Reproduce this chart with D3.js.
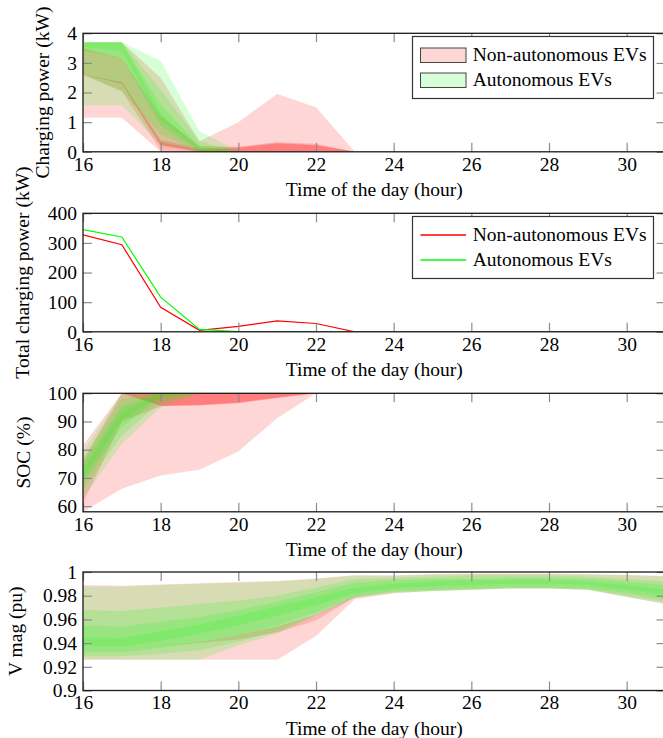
<!DOCTYPE html>
<html>
<head>
<meta charset="utf-8">
<script src="https://cdn.jsdelivr.net/npm/d3@7"></script>
<style>
  body { margin: 0; background: #fff; }
  svg text { font-family: "Liberation Serif", "DejaVu Serif", serif; fill: #000; }
</style>
</head>
<body>
<div id="chart"></div>
<script>
const hours = [16, 17, 18, 19, 20, 21, 22, 23, 24, 25, 26, 27, 28, 29, 30, 31];
const xTicks = [16, 18, 20, 22, 24, 26, 28, 30];
const legendNames = ['Non-autonomous EVs', 'Autonomous EVs'];

// panel 1 - charging power per EV (kW), bands from outer to inner
const powerNonAutoBands = [
  {lo: [1.15, 1.15, 0, 0, 0, 0, 0, 0, 0, 0, 0, 0, 0, 0, 0, 0],
   hi: [3.7, 3.7, 2.5, 0.36, 1.0, 1.95, 1.5, 0, 0, 0, 0, 0, 0, 0, 0, 0]},
  {lo: [2.6, 2.04, 0.05, 0, 0, 0, 0, 0, 0, 0, 0, 0, 0, 0, 0, 0],
   hi: [3.5, 3.16, 1.2, 0.2, 0.17, 0.33, 0.27, 0, 0, 0, 0, 0, 0, 0, 0, 0]},
  {lo: [2.6, 2.3, 0.2, 0, 0, 0, 0, 0, 0, 0, 0, 0, 0, 0, 0, 0],
   hi: [2.6, 2.36, 0.4, 0.12, 0.15, 0.3, 0.24, 0, 0, 0, 0, 0, 0, 0, 0, 0]},
  {lo: [2.6, 2.32, 0.25, 0, 0, 0, 0, 0, 0, 0, 0, 0, 0, 0, 0, 0],
   hi: [2.6, 2.34, 0.32, 0.07, 0.13, 0.28, 0.21, 0, 0, 0, 0, 0, 0, 0, 0, 0]}
];
const powerAutoBands = [
  {lo: [1.57, 1.57, 0.24, 0, 0, 0, 0, 0, 0, 0, 0, 0, 0, 0, 0, 0],
   hi: [3.7, 3.7, 3.07, 0.69, 0.03, 0, 0, 0, 0, 0, 0, 0, 0, 0, 0, 0]},
  {lo: [2.6, 2.04, 0.6, 0.01, 0, 0, 0, 0, 0, 0, 0, 0, 0, 0, 0, 0],
   hi: [3.7, 3.7, 2.1, 0.36, 0.02, 0, 0, 0, 0, 0, 0, 0, 0, 0, 0, 0]},
  {lo: [3.4, 3.16, 0.9, 0.03, 0, 0, 0, 0, 0, 0, 0, 0, 0, 0, 0, 0],
   hi: [3.7, 3.7, 1.6, 0.2, 0.01, 0, 0, 0, 0, 0, 0, 0, 0, 0, 0, 0]},
  {lo: [3.55, 3.4, 1.1, 0.05, 0, 0, 0, 0, 0, 0, 0, 0, 0, 0, 0, 0],
   hi: [3.7, 3.7, 1.3, 0.1, 0.01, 0, 0, 0, 0, 0, 0, 0, 0, 0, 0, 0]}
];

// panel 2 - total charging power (kW)
const totalNonAuto = [327, 294, 83, 5, 18, 37, 28, 0, 0, 0, 0, 0, 0, 0, 0, 0];
const totalAuto = [345, 320, 117, 8, 1, 0, 0, 0, 0, 0, 0, 0, 0, 0, 0, 0];

// panel 3 - SOC (%)
const socNonAutoBands = [
  {lo: [58, 66.2, 70.9, 72.9, 79.4, 91.2, 100, 100, 100, 100, 100, 100, 100, 100, 100, 100],
   hi: [81.6, 100, 100, 100, 100, 100, 100, 100, 100, 100, 100, 100, 100, 100, 100, 100]},
  {lo: [61, 90, 95.4, 95.7, 96.5, 98.3, 100, 100, 100, 100, 100, 100, 100, 100, 100, 100],
   hi: [76, 100, 100, 100, 100, 100, 100, 100, 100, 100, 100, 100, 100, 100, 100, 100]},
  {lo: [100, 100, 95.5, 95.8, 96.6, 98.4, 100, 100, 100, 100, 100, 100, 100, 100, 100, 100],
   hi: [100, 100, 100, 100, 100, 100, 100, 100, 100, 100, 100, 100, 100, 100, 100, 100]},
  {lo: [100, 100, 95.6, 95.9, 96.7, 98.5, 100, 100, 100, 100, 100, 100, 100, 100, 100, 100],
   hi: [100, 100, 100, 100, 100, 100, 100, 100, 100, 100, 100, 100, 100, 100, 100, 100]}
];
const socAutoBands = [
  {lo: [63, 82, 95, 100, 100, 100, 100, 100, 100, 100, 100, 100, 100, 100, 100, 100],
   hi: [79.3, 100, 100, 100, 100, 100, 100, 100, 100, 100, 100, 100, 100, 100, 100, 100]},
  {lo: [66, 85, 97, 100, 100, 100, 100, 100, 100, 100, 100, 100, 100, 100, 100, 100],
   hi: [77, 98, 100, 100, 100, 100, 100, 100, 100, 100, 100, 100, 100, 100, 100, 100]},
  {lo: [68, 88, 98.5, 100, 100, 100, 100, 100, 100, 100, 100, 100, 100, 100, 100, 100],
   hi: [75, 95.5, 100, 100, 100, 100, 100, 100, 100, 100, 100, 100, 100, 100, 100, 100]},
  {lo: [70, 90.5, 99.3, 100, 100, 100, 100, 100, 100, 100, 100, 100, 100, 100, 100, 100],
   hi: [73, 93.5, 100, 100, 100, 100, 100, 100, 100, 100, 100, 100, 100, 100, 100, 100]}
];

// panel 4 - voltage magnitude (pu)
const voltNonAutoBands = [
  {lo: [0.926, 0.926, 0.926, 0.926, 0.926, 0.926, 0.946, 0.977, 0.982, 0.984, 0.985, 0.986, 0.986, 0.985, 0.979, 0.973],
   hi: [0.989, 0.9885, 0.9895, 0.9905, 0.9915, 0.9925, 0.9945, 0.9972, 0.997, 0.998, 0.9985, 0.9985, 0.9985, 0.998, 0.9975, 0.9966]},
  {lo: [0.935, 0.934, 0.937, 0.940, 0.943, 0.949, 0.959, 0.979, 0.984, 0.985, 0.986, 0.987, 0.987, 0.986, 0.981, 0.976],
   hi: [0.935, 0.934, 0.937, 0.941, 0.947, 0.954, 0.964, 0.980, 0.984, 0.985, 0.986, 0.987, 0.987, 0.986, 0.981, 0.976]}
];
const voltAutoBands = [
  {lo: [0.926, 0.926, 0.926, 0.926, 0.938, 0.948, 0.963, 0.978, 0.982, 0.984, 0.985, 0.986, 0.986, 0.985, 0.979, 0.973],
   hi: [0.988, 0.9875, 0.989, 0.990, 0.991, 0.992, 0.994, 0.997, 0.997, 0.998, 0.9985, 0.9985, 0.9985, 0.998, 0.9975, 0.9965]},
  {lo: [0.929, 0.929, 0.931, 0.934, 0.941, 0.950, 0.964, 0.979, 0.983, 0.984, 0.985, 0.986, 0.986, 0.985, 0.980, 0.975],
   hi: [0.968, 0.967, 0.970, 0.973, 0.976, 0.980, 0.987, 0.994, 0.995, 0.996, 0.997, 0.997, 0.997, 0.996, 0.994, 0.992]},
  {lo: [0.933, 0.932, 0.936, 0.941, 0.947, 0.955, 0.966, 0.980, 0.984, 0.985, 0.986, 0.987, 0.987, 0.986, 0.982, 0.977],
   hi: [0.955, 0.954, 0.958, 0.962, 0.968, 0.975, 0.983, 0.991, 0.993, 0.994, 0.994, 0.995, 0.995, 0.994, 0.992, 0.989]},
  {lo: [0.938, 0.937, 0.942, 0.948, 0.955, 0.963, 0.972, 0.982, 0.986, 0.988, 0.989, 0.990, 0.990, 0.989, 0.985, 0.981],
   hi: [0.945, 0.944, 0.950, 0.956, 0.963, 0.971, 0.979, 0.987, 0.990, 0.992, 0.993, 0.993, 0.993, 0.992, 0.989, 0.985]}
];

const powerTicks = [0, 1, 2, 3, 4];
const totalTicks = [0, 100, 200, 300, 400];
const socTicks = [60, 70, 80, 90, 100];
const voltTicks = [0.9, 0.92, 0.94, 0.96, 0.98, 1];

const width = 663, height = 738;
const left = 83, right = 665.5;
const panelH = 118.5;
const fontSize = 19.5;
const fontFamily = '"Liberation Serif", "DejaVu Serif", serif';
const red = '#ff0000', green = '#00ff00';
const redOpacity = 0.16, greenOpacity = 0.155;

const svg = d3.select('#chart').append('svg')
    .attr('width', width).attr('height', height);

const x = d3.scaleLinear().domain([16, 31]).range([left, right]);

const panels = [
  {top: 33.3, domain: [0, 4], ticks: powerTicks, label: 'Charging power (kW)', labelX: 43,
   bands: [powerNonAutoBands, powerAutoBands], legend: 'area'},
  {top: 213.3, domain: [0, 400], ticks: totalTicks, label: 'Total charging power (kW)', labelX: 23,
   lines: [totalNonAuto, totalAuto], legend: 'line'},
  {top: 393.3, domain: [58, 100], ticks: socTicks, label: 'SOC (%)', labelX: 24,
   bands: [socNonAutoBands, socAutoBands]},
  {top: 572, domain: [0.9, 1], ticks: voltTicks, label: 'V mag (pu)', labelX: 16,
   bands: [voltNonAutoBands, voltAutoBands]}
];

panels.forEach((p, i) => drawPanel(p, i));

function drawPanel(p, i) {
  const bottom = p.top + panelH;
  const y = d3.scaleLinear().domain(p.domain).range([bottom, p.top]);
  const g = svg.append('g');

  g.append('clipPath').attr('id', 'clip' + i)
    .append('rect').attr('x', left).attr('y', p.top)
    .attr('width', right - left).attr('height', panelH);
  const plot = g.append('g').attr('clip-path', `url(#clip${i})`);

  const colors = [red, green];
  const opacities = [redOpacity, greenOpacity];
  if (p.bands) {
    // red first, green on top
    p.bands.forEach((bands, k) => {
      bands.forEach(b => {
        const area = d3.area()
          .x(j => x(hours[j]))
          .y0(j => y(b.lo[j]))
          .y1(j => y(b.hi[j]));
        plot.append('path')
          .attr('d', area(d3.range(hours.length)))
          .attr('fill', colors[k])
          .attr('fill-opacity', opacities[k])
          .attr('stroke', 'none');
      });
    });
  }
  if (p.lines) {
    p.lines.forEach((vals, k) => {
      const line = d3.line().x((d, j) => x(hours[j])).y(d => y(d));
      plot.append('path')
        .attr('d', line(vals))
        .attr('fill', 'none')
        .attr('stroke', colors[k])
        .attr('stroke-width', 1.2);
    });
  }

  // ticks point inward on all four sides
  const tickLen = 9;
  const styleAxis = sel => {
    sel.attr('font-family', fontFamily).attr('font-size', fontSize);
    sel.select('.domain').remove();
    sel.selectAll('.tick line').attr('stroke', '#8c8c8c').attr('stroke-width', 1.2);
  };
  g.append('g').attr('transform', `translate(0,${bottom})`)
    .call(d3.axisBottom(x).tickValues(xTicks).tickSize(-tickLen).tickPadding(5).tickFormat(d3.format('d')))
    .call(styleAxis);
  g.append('g').attr('transform', `translate(0,${p.top})`)
    .call(d3.axisTop(x).tickValues(xTicks).tickSize(-tickLen).tickFormat(''))
    .call(styleAxis);
  g.append('g').attr('transform', `translate(${left},0)`)
    .call(d3.axisLeft(y).tickValues(p.ticks).tickSize(-tickLen).tickPadding(6)
      .tickFormat(d => String(+d.toFixed(2))))
    .call(styleAxis);
  g.append('g').attr('transform', `translate(${right},0)`)
    .call(d3.axisRight(y).tickValues(p.ticks).tickSize(-tickLen).tickFormat(''))
    .call(styleAxis);

  // frame
  g.append('rect')
    .attr('x', left).attr('y', p.top)
    .attr('width', right - left).attr('height', panelH)
    .attr('fill', 'none').attr('stroke', '#1a1a1a').attr('stroke-width', 1.3);

  // axis labels
  g.append('text')
    .attr('x', (left + right) / 2).attr('y', bottom + 44.5)
    .attr('text-anchor', 'middle')
    .style('font-size', fontSize + 'px')
    .text('Time of the day (hour)');
  g.append('text')
    .attr('transform', `translate(${p.labelX},${p.top + panelH / 2}) rotate(-90)`)
    .attr('text-anchor', 'middle')
    .attr('dy', '0.32em')
    .style('font-size', fontSize + 'px')
    .text(p.label);

  if (p.legend) drawLegend(g, p.top, p.legend);
}

function drawLegend(g, top, kind) {
  const bx = 412.5, by = Math.round(top + 2.7) + 0.5;
  g.append('rect')
    .attr('x', bx).attr('y', by).attr('width', 241).attr('height', 62)
    .attr('fill', '#fff').attr('stroke', '#333').attr('stroke-width', 1.2);
  const colors = [red, green];
  const opacities = [redOpacity, greenOpacity];
  legendNames.forEach((name, k) => {
    const cy = Math.round(by + 18 + k * 25);
    if (kind === 'area') {
      g.append('rect')
        .attr('x', 420.5).attr('y', cy - 7).attr('width', 45.5).attr('height', 14.5)
        .attr('fill', colors[k]).attr('fill-opacity', opacities[k])
        .attr('stroke', '#444').attr('stroke-width', 1);
    } else {
      g.append('line')
        .attr('x1', 420.5).attr('x2', 466).attr('y1', cy).attr('y2', cy)
        .attr('stroke', colors[k]).attr('stroke-width', 1.3);
    }
    g.append('text')
      .attr('x', 472.7).attr('y', cy + 5.5)
      .style('font-size', fontSize + 'px')
      .text(name);
  });
}
</script>
</body>
</html>
